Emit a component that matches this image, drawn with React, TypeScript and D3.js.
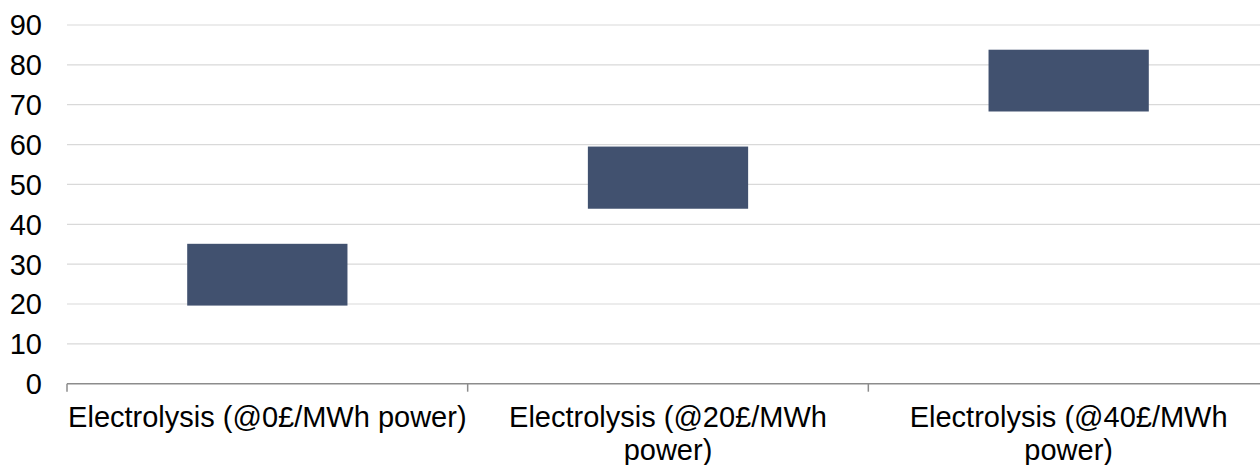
import React from "react";
import * as d3 from "d3";

const categories = [
  "Electrolysis (@0£/MWh power)",
  "Electrolysis (@20£/MWh power)",
  "Electrolysis (@40£/MWh power)",
];
const lowValues = [19.6, 43.9, 68.3];
const highValues = [35.1, 59.5, 83.8];
const yTicks = [0, 10, 20, 30, 40, 50, 60, 70, 80, 90];

const W = 1260;
const H = 465;
const FONT = "'Liberation Sans', Arial, sans-serif";
const FS = 29;

function wrapText(text: string, maxWidth: number): string[] {
  const canvas = document.createElement("canvas");
  const ctx = canvas.getContext("2d")!;
  ctx.font = `${FS}px ${FONT}`;
  const words = text.split(" ");
  const lines: string[] = [];
  let cur = "";
  for (const w of words) {
    const test = cur ? cur + " " + w : w;
    if (ctx.measureText(test).width > maxWidth && cur) {
      lines.push(cur);
      cur = w;
    } else cur = test;
  }
  if (cur) lines.push(cur);
  return lines;
}

export default function App() {
  const x = d3.scaleBand<string>().domain(categories).range([67, 1269]).padding(0);
  const y = d3.scaleLinear().domain([0, 90]).range([383.7, 25]);
  const bw = x.bandwidth();
  const barW = bw * 0.4;
  const tickXs = [...categories.map((c) => x(c)!), 1269];

  return (
    <svg width={W} height={H} style={{ position: "absolute", left: 0, top: 0 }} fontFamily={FONT}>
      <rect width={W} height={H} fill="#fff" />
      {yTicks.slice(1).map((t) => (
        <line key={t} x1={67} x2={W} y1={y(t)} y2={y(t)} stroke="#d9d9d9" strokeWidth={1.2} />
      ))}
      {yTicks.map((t) => (
        <text key={t} x={42} y={y(t)} dy="0.36em" textAnchor="end" fontSize={FS} fill="#000">
          {t}
        </text>
      ))}
      {categories.map((c, i) => {
        const cx = x(c)! + bw / 2;
        return (
          <rect
            key={c}
            x={cx - barW / 2}
            width={barW}
            y={y(highValues[i])}
            height={y(lowValues[i]) - y(highValues[i])}
            fill="#41516f"
          />
        );
      })}
      <line x1={67} x2={W} y1={y(0)} y2={y(0)} stroke="#8c8c8c" strokeWidth={1.5} />
      {tickXs.map((tx, i) => (
        <line key={i} x1={tx} x2={tx} y1={y(0)} y2={y(0) + 8} stroke="#8c8c8c" strokeWidth={1.5} />
      ))}
      {categories.map((c) => {
        const cx = x(c)! + bw / 2;
        const lines = wrapText(c, bw - 2);
        return (
          <text key={c} textAnchor="middle" fontSize={FS} fill="#000">
            {lines.map((l, j) => (
              <tspan key={j} x={cx} y={426.5 + j * 33.5}>
                {l}
              </tspan>
            ))}
          </text>
        );
      })}
    </svg>
  );
}
